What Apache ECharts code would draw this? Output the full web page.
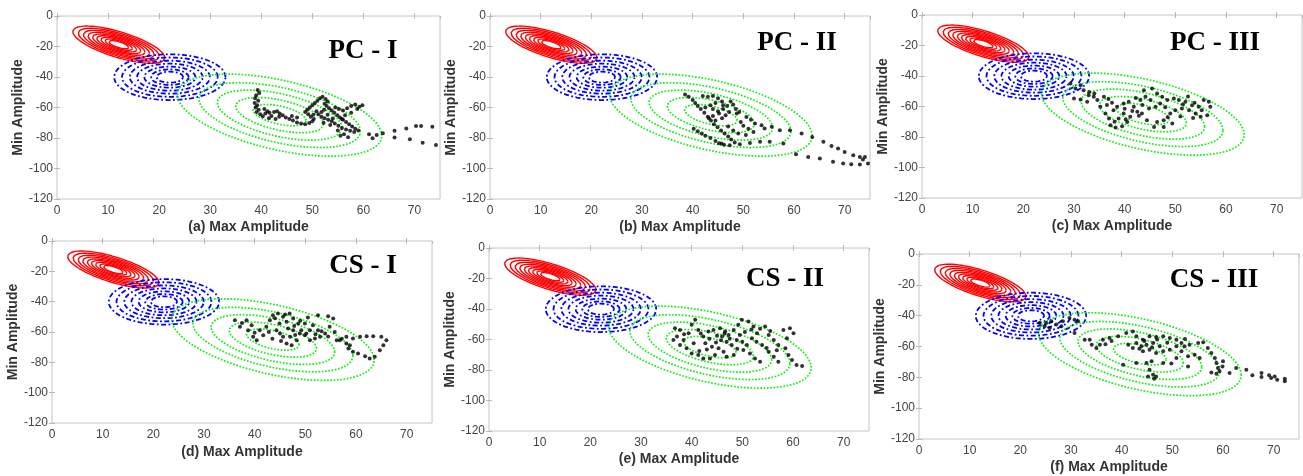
<!DOCTYPE html>
<html><head><meta charset="utf-8">
<script src="https://cdn.jsdelivr.net/npm/echarts@6/dist/echarts.min.js"></script>
<style>html,body{margin:0;padding:0;background:#fff}#c{width:1303px;height:476px}</style>
</head><body><div id="c"></div>
<script>
// ---------- axes ----------
const X_MIN = 0, X_MAX = 75, X_STEP = 10;
const Y_MIN = -120, Y_MAX = 0, Y_STEP = 20;
const panelTitles = ['PC - I', 'PC - II', 'PC - III', 'CS - I', 'CS - II', 'CS - III'];
const panelXLabels = ['(a) Max Amplitude', '(b) Max Amplitude', '(c) Max Amplitude',
                      '(d) Max Amplitude', '(e) Max Amplitude', '(f) Max Amplitude'];
const yLabel = 'Min Amplitude';

// ---------- Gaussian contour models (centre, outer-ring spread, correlation, ring levels) ----------
const redCenter = [12.1, -18.8];
const redSpread = [9.0, 12.2];
const redRho = -0.7;
const redLevels = [1, 0.88, 0.77, 0.67, 0.57, 0.48, 0.39, 0.3, 0.22];

const blueCenter = [22.1, -40.1];
const blueSpread = [10.9, 15.0];
const blueRho = 0;
const blueLevels = [1, 0.86, 0.72, 0.59, 0.46, 0.34, 0.24];

const greenCenter = [43.6, -65.0];
const greenSpread = [20.0, 26.9];
const greenRho = -0.5;
const greenLevels = [1, 0.79, 0.61, 0.43, 0.26];

// ---------- observed points ----------
const pcI = [[39.3,-48.5],[39.6,-50.5],[39.0,-52],[38.8,-54],[39.4,-55.5],[38.7,-57],[39.2,-58.5],[38.9,-60],[39.5,-61.5],[39.1,-63],[39.8,-64.5],[40.3,-65.8],[40.8,-64],[41.2,-62.5],[40.6,-61],[41.6,-63.5],[42.0,-65.5],[42.5,-63],[43.1,-62.5],[43.6,-64],[44.2,-65],[44.8,-66.5],[45.5,-67.5],[46.2,-68.5],[47.0,-69.8],[47.8,-70.5],[48.6,-71],[49.4,-70.2],[50.0,-69],[50.3,-67.5],[49.7,-66],[49.2,-64.5],[48.6,-63],[49.0,-61.5],[49.5,-60],[50.0,-58.5],[50.5,-57],[51.0,-55.5],[51.5,-54],[52.0,-53],[52.6,-54.5],[53.0,-56],[52.4,-57.5],[52.8,-59],[53.3,-60.5],[53.8,-62],[54.3,-63.5],[54.9,-65],[55.4,-66.5],[56.0,-68],[56.6,-69.5],[57.2,-71],[57.8,-72.5],[58.4,-74],[59.0,-75],[58.2,-76],[57.4,-75.3],[56.6,-74.5],[55.8,-73.5],[55.1,-72],[54.4,-70.5],[53.8,-69],[53.1,-68],[52.4,-67],[51.8,-66],[51.2,-64.5],[51.8,-63],[52.3,-61.5],[54.5,-60],[55.2,-61],[56.0,-62],[56.8,-60.5],[57.6,-59],[58.4,-58],[59.2,-59.5],[59.8,-58.5],[58.8,-61],[57.6,-63.5],[56.4,-65],[55.8,-67.5],[56.2,-77.5],[55.5,-78.5],[57.0,-79.5],[53.5,-71.5],[55.0,-75],[41.5,-67],[42.8,-67.5],[43.5,-66],[46.0,-65.5],[47.0,-66.5],[50.8,-62.5],[50.2,-64.8],[53.0,-64.8],[54.0,-67.2],[52.2,-70],[61.1,-77.6],[61.8,-80.2],[62.6,-78],[63.8,-76.9],[66.1,-75.2],[66.1,-79.6],[68.4,-73.7],[69.1,-80.9],[70.3,-72.1],[71.3,-72.1],[71.6,-83.1],[73.5,-72.6],[74.2,-84.6]];

const pcII = [[38.5,-51.5],[39.2,-53],[40.0,-55],[40.5,-57],[41.0,-59],[41.6,-61],[42.3,-63.5],[43.0,-66],[43.6,-68.5],[44.2,-71],[44.9,-73],[45.6,-75],[46.3,-77],[47.0,-79],[47.6,-81],[48.3,-83],[46.2,-84.5],[45.2,-83.5],[44.5,-82],[43.5,-80],[42.5,-78.5],[41.8,-77],[41.0,-75.5],[40.2,-74],[42.0,-52.5],[43.0,-53],[44.0,-52.5],[45.0,-54],[45.8,-56],[44.5,-57],[43.5,-58.5],[42.5,-60],[44.0,-61],[45.0,-62.5],[46.0,-61],[45.2,-64],[44.0,-65.5],[43.2,-67],[44.5,-68.5],[45.8,-67],[46.5,-65],[47.2,-63],[46.8,-59],[46.0,-58.5],[47.5,-56],[48.0,-58],[48.5,-61],[49.2,-63],[48.7,-64],[50.6,-66.2],[52.3,-70.5],[53.6,-71.6],[54.2,-73.8],[55.6,-72.7],[57.2,-74.9],[59.2,-74.9],[61.5,-77.1],[63.6,-79.3],[50.0,-72],[51.0,-74],[52.0,-76],[50.5,-78],[49.0,-77],[48.0,-75],[47.0,-72.5],[49.5,-69.5],[51.5,-68],[45.7,-83.6],[47.3,-84.7],[49.3,-84.1],[51.3,-83.2],[53.3,-82.5],[55.2,-82.5],[57.9,-83.6],[60.4,-90.6],[62.8,-92.4],[65.1,-93.4],[65.8,-82.5],[67.4,-85.2],[68.7,-86.9],[67.7,-95.6],[70.0,-89.1],[69.7,-96.7],[71.7,-91.3],[71.3,-97.2],[73.0,-92.4],[73.6,-94.1],[73.0,-97.4],[74.6,-96.7],[74.0,-92.4]];

const pcIII = [[29.3,-44.9],[30.3,-48.2],[31.3,-46],[31.9,-49.3],[32.9,-52.6],[33.9,-53.6],[34.6,-55.8],[35.9,-53.6],[30.0,-54.7],[31.3,-55.4],[32.6,-56.9],[35.2,-60.2],[36.2,-64.6],[36.9,-67.9],[37.2,-72.3],[38.2,-73.8],[39.5,-72.9],[40.5,-70.1],[38.5,-60.2],[39.8,-58],[40.8,-56.9],[41.8,-60.2],[42.5,-63.5],[39.8,-64.6],[38.8,-67.9],[41.1,-66.8],[43.8,-49.3],[45.4,-48.2],[46.4,-51.5],[47.4,-53.6],[48.4,-55.8],[49.7,-54.7],[50.7,-55.8],[52.0,-56.9],[53.3,-59.1],[54.6,-60.2],[55.6,-55.8],[56.6,-56.9],[56.9,-60.2],[56.3,-65.7],[55.0,-66.8],[54.0,-64.6],[52.7,-62.4],[51.3,-61.3],[50.0,-62.4],[49.0,-64.6],[47.7,-69],[46.4,-70.1],[45.8,-73.4],[47.7,-73.4],[49.4,-71.2],[44.4,-69],[43.4,-64.6],[44.8,-61.3],[46.1,-60.2],[47.0,-58],[45.1,-55.8],[44.1,-53.6],[43.1,-55.8],[33.0,-50.5],[34.0,-51.5],[36.8,-55],[37.5,-57.5],[36.5,-59],[37.8,-62.5],[40.0,-61.5],[41.5,-63],[42.8,-66],[43.5,-59],[48.0,-60.5],[51.5,-58.5],[53.8,-57.5],[55.2,-62.5],[53.5,-67.5],[51.0,-66.5],[48.5,-67],[42.2,-54.5],[40.2,-68.5],[38.0,-70],[52.5,-53.5]];

const csI = [[36.1,-52.2],[37.1,-56.6],[38.4,-52.2],[39.4,-55.5],[38.7,-58.8],[39.7,-63.2],[40.4,-65.4],[41.0,-58.8],[41.7,-62.1],[42.3,-56.6],[43.0,-52.2],[43.6,-48.9],[44.6,-47.8],[45.6,-50],[46.3,-53.3],[46.9,-47.8],[47.6,-51.1],[48.6,-54.4],[49.2,-58.8],[49.9,-62.1],[50.9,-65.4],[51.9,-64.3],[52.9,-63.2],[53.9,-61],[54.8,-56.6],[55.5,-51.1],[54.5,-49.6],[52.5,-48.9],[50.5,-50.5],[56.2,-65.4],[58.1,-63.2],[59.4,-64.3],[60.8,-63.2],[62.1,-62.8],[63.4,-62.8],[65.0,-63.2],[66.0,-65.4],[65.4,-68.7],[64.7,-72],[63.7,-76.4],[62.7,-77.5],[61.8,-76],[60.4,-74.2],[59.4,-73.1],[58.5,-70.9],[58.1,-67.6],[58.8,-68.7],[56.8,-65.4],[44.3,-58.8],[45.6,-63.2],[46.3,-67.6],[47.3,-68.7],[48.3,-65.4],[48.9,-61],[47.6,-58.8],[44.9,-54.4],[46.6,-57.7],[47.0,-63.2],[49.9,-54.4],[50.9,-58.8],[51.5,-55.5],[52.5,-58.8],[37.5,-54],[40.0,-60.5],[42.8,-60],[45.0,-61],[45.2,-66],[43.5,-64.5],[48.0,-62],[50.2,-61],[52.0,-61.5],[53.2,-59.5],[54.5,-63],[55.8,-60],[57.2,-64.5],[47.8,-56],[49.0,-52.5],[44.0,-51],[46.0,-48.5]];

const csII = [[36.7,-52.6],[37.1,-58.1],[37.7,-53.7],[38.4,-60.3],[39.4,-55.9],[40.0,-50.4],[40.7,-47.1],[41.3,-53.7],[40.4,-62.5],[39.0,-65.8],[40.0,-69.1],[41.3,-70.2],[42.3,-72.4],[43.6,-72.4],[44.6,-70.2],[45.3,-65.8],[44.0,-64.7],[42.7,-62.5],[42.3,-58.1],[43.3,-54.8],[44.3,-53.7],[45.6,-52.6],[46.6,-54.8],[47.3,-57],[46.0,-58.1],[46.9,-61.4],[47.9,-63.6],[48.9,-60.3],[48.3,-53.7],[49.2,-50.4],[49.9,-47.1],[51.2,-48.2],[52.2,-51.5],[52.9,-55.9],[51.9,-59.2],[50.9,-63.6],[50.2,-66.9],[51.5,-69.1],[52.5,-72.4],[53.5,-74.6],[54.5,-51.5],[55.2,-57],[56.2,-60.3],[57.1,-63.6],[58.1,-53.7],[59.4,-52.6],[60.1,-55.9],[58.8,-59.2],[58.5,-65.8],[59.1,-70.2],[59.8,-73.5],[60.7,-76.8],[61.8,-77.4],[56.2,-71.3],[55.2,-68],[57.1,-74.6],[53.9,-63.6],[48.3,-70.2],[46.9,-71.3],[46.3,-68],[37.7,-63.6],[36.4,-60.3],[38.5,-56.5],[41.8,-56],[43.5,-59.5],[45.0,-57.5],[46.5,-56],[47.5,-59.5],[49.5,-57],[50.5,-55],[51.8,-53.5],[53.5,-53],[50.0,-61.5],[52.8,-61.5],[54.8,-65.5],[56.8,-67],[45.8,-60.5],[44.8,-62],[43.0,-66.5],[41.5,-67.5],[49.0,-66],[55.5,-54.5]];

const csIII = [[23.8,-44.8],[24.8,-46.9],[25.8,-48],[27.1,-45.8],[28.4,-43.7],[29.7,-41.5],[30.7,-42.6],[31.4,-43.7],[26.1,-43.7],[25.1,-44.8],[28.1,-46.9],[30.7,-51.2],[32.7,-55.6],[33.7,-55.6],[34.1,-58.8],[35.0,-61],[35.7,-58.8],[36.3,-55.6],[37.6,-54.5],[39.3,-53.4],[40.9,-51.2],[42.2,-50.2],[42.9,-53.4],[44.2,-55.6],[45.5,-53.4],[46.8,-53.8],[48.2,-53.4],[49.5,-54.5],[50.8,-55.6],[51.8,-57.7],[52.4,-59.9],[53.4,-58.8],[55.1,-57.7],[56.1,-57.3],[42.9,-57.7],[43.9,-59.9],[44.9,-58.8],[46.2,-57.7],[47.5,-59.9],[48.2,-63.1],[46.8,-64.2],[45.5,-62.1],[44.2,-63.1],[42.2,-61],[41.3,-58.8],[49.5,-62.1],[50.8,-59.9],[51.8,-63.1],[53.1,-66.4],[54.4,-65.3],[55.4,-67.5],[57.0,-61],[57.7,-64.2],[58.4,-67.5],[58.7,-70.7],[59.0,-73.9],[59.3,-76.1],[57.7,-76.8],[58.7,-77.6],[60.0,-69.6],[59.9,-72.9],[44.9,-70.7],[45.9,-69.6],[45.5,-75],[46.2,-78.3],[45.2,-79.4],[46.8,-79.4],[46.4,-80.9],[42.9,-70.7],[40.3,-71.8],[48.2,-70.7],[49.8,-71.1],[53.1,-72.9],[50.8,-67.5],[61.3,-77.2],[62.6,-73.9],[64.6,-75],[65.8,-78.7],[67.6,-77.2],[67.6,-79.8],[69.1,-78.7],[69.5,-80.4],[70.2,-79.4],[70.7,-81.5],[72.2,-80.9],[72.2,-82.6],[44.5,-56.5],[47.0,-55.5],[49.0,-57.5],[43.5,-61.5],[46.0,-60.5],[52.5,-55.2],[38.0,-56.5],[36.8,-58.5]];

const panelData = [pcI, pcII, pcIII, csI, csII, csIII];

// ---------- layout (pixel boxes of the six plot areas) ----------
const boxes = [
  {left: 57,  top: 16,  width: 383, height: 183, yGap: 32, xGap: 21, title: [363, 51]},
  {left: 490, top: 16,  width: 380, height: 183, yGap: 31, xGap: 21, title: [797, 43]},
  {left: 922, top: 15,  width: 380, height: 183, yGap: 32, xGap: 21, title: [1215, 43]},
  {left: 52,  top: 241, width: 380, height: 182, yGap: 30, xGap: 22, title: [363, 266]},
  {left: 489, top: 248, width: 380, height: 183, yGap: 30, xGap: 21, title: [785, 279]},
  {left: 919, top: 254, width: 380, height: 185, yGap: 32, xGap: 21, title: [1214, 280]}
];

function ring(c, s, rho, k) {
  const pts = [], N = 160, q = Math.sqrt(1 - rho * rho);
  for (let i = 0; i <= N; i++) {
    const t = 2 * Math.PI * i / N, a = Math.cos(t), b = Math.sin(t);
    pts.push([c[0] + k * s[0] * a, c[1] + k * s[1] * (rho * a + q * b)]);
  }
  return pts;
}

const grid = [], xAxis = [], yAxis = [], series = [], graphic = [];
const tickColor = '#b8b8b8', labelColor = '#444';
boxes.forEach((b, i) => {
  grid.push({left: b.left, top: b.top, width: b.width, height: b.height, show: true,
             borderColor: '#c4c4c4', borderWidth: 1, backgroundColor: '#fff'});
  const common = {type: 'value', gridIndex: i, splitLine: {show: false}, axisLine: {show: false}};
  xAxis.push(Object.assign({}, common, {position: 'bottom', min: X_MIN, max: X_MAX, interval: X_STEP,
    axisTick: {show: true, inside: true, length: 3, lineStyle: {color: tickColor}},
    axisLabel: {color: labelColor, fontSize: 12, fontFamily: 'Liberation Sans', margin: 6, showMaxLabel: false},
    name: panelXLabels[i], nameLocation: 'middle', nameGap: b.xGap,
    nameTextStyle: {fontFamily: 'Liberation Sans', fontWeight: 'bold', fontSize: 14, color: '#333', verticalAlign: 'top'}}));
  xAxis.push(Object.assign({}, common, {position: 'top', min: X_MIN, max: X_MAX, interval: X_STEP,
    axisTick: {show: true, inside: true, length: 3, lineStyle: {color: tickColor}},
    axisLabel: {show: false}}));
  yAxis.push(Object.assign({}, common, {position: 'left', min: Y_MIN, max: Y_MAX, interval: Y_STEP,
    axisTick: {show: true, inside: true, length: 3, lineStyle: {color: tickColor}},
    axisLabel: {color: labelColor, fontSize: 12, fontFamily: 'Liberation Sans', margin: 4},
    name: yLabel, nameLocation: 'middle', nameGap: b.yGap, nameRotate: 90,
    nameTextStyle: {fontFamily: 'Liberation Sans', fontWeight: 'bold', fontSize: 14, color: '#333'}}));
  yAxis.push(Object.assign({}, common, {position: 'right', min: Y_MIN, max: Y_MAX, interval: Y_STEP,
    axisTick: {show: true, inside: true, length: 3, lineStyle: {color: tickColor}},
    axisLabel: {show: false}}));

  const xi = 2 * i, yi = 2 * i;
  const addRings = (c, s, rho, levels, style) => levels.forEach(k => series.push({
    type: 'line', xAxisIndex: xi, yAxisIndex: yi, data: ring(c, s, rho, k),
    showSymbol: false, symbol: 'none', smooth: false, silent: true, animation: false,
    lineStyle: style, z: 2}));
  addRings(redCenter, redSpread, redRho, redLevels, {color: '#ff0000', width: 1.4, type: 'solid'});
  addRings(blueCenter, blueSpread, blueRho, blueLevels, {color: '#0000ff', width: 1.8, type: [5, 2.5, 1.8, 2.5]});
  addRings(greenCenter, greenSpread, greenRho, greenLevels, {color: '#11ee11', width: 1.7, type: [1.7, 1.6]});
  series.push({type: 'scatter', xAxisIndex: xi, yAxisIndex: yi, data: panelData[i],
    symbol: 'circle', symbolSize: 4, itemStyle: {color: '#000'}, animation: false, z: 5});

  graphic.push({type: 'text', x: b.title[0], y: b.title[1], z: 100,
    style: {text: panelTitles[i], font: 'bold 27px "Liberation Serif"', fill: '#000',
            textAlign: 'center', textVerticalAlign: 'middle', align: 'center', verticalAlign: 'middle'}});
});

const chart = echarts.init(document.getElementById('c'), null, {renderer: 'canvas'});
chart.setOption({animation: false, backgroundColor: '#fff', grid, xAxis, yAxis, series, graphic});
</script>
</body></html>
